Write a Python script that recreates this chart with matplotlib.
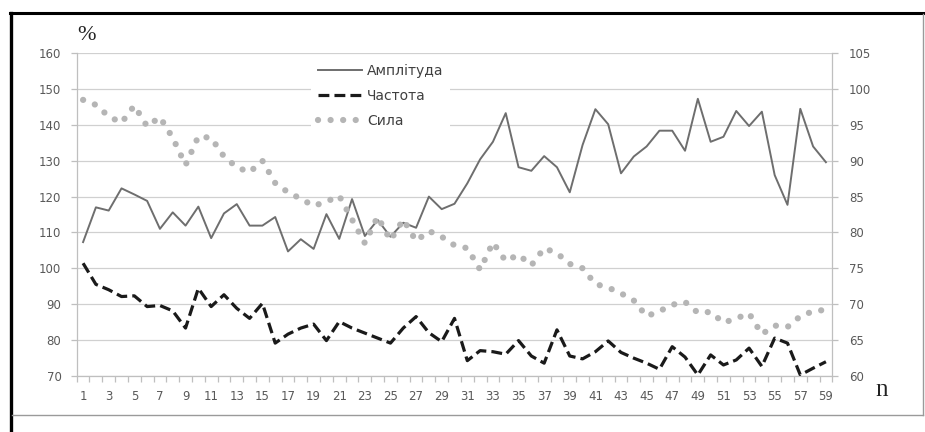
import matplotlib.pyplot as plt
import numpy as np
from matplotlib.lines import Line2D

# data
n = np.arange(1, 60)
amplituda = [107.3, 117.0, 116.1, 122.3, 120.6, 118.8, 111.0, 115.6, 111.9, 117.2,
             108.4, 115.3, 117.9, 111.9, 111.9, 114.3, 104.7, 108.1, 105.4, 115.1,
             108.2, 119.3, 109.0, 113.5, 108.8, 112.7, 111.3, 120.0, 116.5, 118.0,
             123.7, 130.4, 135.3, 143.3, 128.2, 127.2, 131.3, 128.2, 121.2, 134.4,
             144.4, 140.2, 126.5, 131.2, 134.0, 138.4, 138.4, 132.8, 147.3, 135.3,
             136.7, 143.9, 139.7, 143.7, 126.0, 117.7, 144.5, 134.0, 129.6]
chastota = [101.4, 95.5, 94.0, 92.1, 92.3, 89.3, 89.6, 88.1, 83.3, 94.4,
            89.3, 92.6, 88.8, 86.0, 90.2, 79.1, 81.6, 83.3, 84.4, 79.8,
            85.1, 83.3, 81.9, 80.5, 79.1, 83.3, 86.5, 82.0, 79.5, 86.0,
            74.2, 77.0, 76.7, 76.0, 79.8, 75.5, 73.5, 82.8, 75.5, 74.7,
            76.7, 79.7, 76.5, 74.9, 73.5, 71.8, 78.1, 75.2, 70.2, 75.8,
            73.0, 74.4, 77.7, 72.6, 80.5, 79.1, 70.2, 72.1, 73.9]
# Сила on the right axis (60..105)
syla = [98.5, 97.8, 96.2, 95.3, 97.7, 94.8, 96.1, 93.2, 89.4, 93.4,
        93.2, 90.6, 89.1, 88.4, 90.0, 86.9, 85.6, 84.7, 83.7, 84.3,
        85.1, 81.8, 78.5, 82.2, 78.9, 81.8, 78.8, 80.2, 79.4, 78.2,
        77.8, 74.8, 78.6, 76.0, 76.9, 75.4, 77.8, 77.1, 75.6, 75.0,
        72.8, 72.3, 71.5, 70.5, 68.3, 69.0, 69.9, 70.3, 68.8, 68.9,
        67.4, 68.0, 68.7, 65.8, 67.0, 66.8, 68.3, 69.0, 69.2]

labels = ['Амплітуда', 'Частота', 'Сила']
left_ticks = np.arange(70, 161, 10)
right_ticks = np.arange(60, 106, 5)

plt.rcParams['font.family'] = ['DejaVu Sans']
txt = '#595959'
grid_c = '#d0d0d0'

fig = plt.figure(figsize=(9.25, 4.32), dpi=100)
ax = fig.add_axes([0.0829, 0.1303, 0.8169, 0.7463])
ax2 = ax.twinx()

l1, = ax.plot(n, amplituda, color='#6e6e6e', lw=1.4, label=labels[0])
l2, = ax.plot(n, chastota, color='#1a1a1a', lw=2.3, dashes=(3.4, 1.6),
              dash_capstyle='butt', label=labels[1])
l3, = ax2.plot(n, syla, color='#b5b5b5', lw=4.5, dashes=(0.01, 2.0),
               dash_capstyle='round', label=labels[2])

ax.set_xlim(0.5, 59.5)
ax.set_ylim(70, 160)
ax2.set_ylim(60, 105)
ax.set_yticks(left_ticks)
ax2.set_yticks(right_ticks)
ax.set_xticks(n[::2])
ax.set_xticks(np.arange(0.5, 60, 1), minor=True)

ax.grid(axis='y', color=grid_c, lw=0.9)
ax.set_axisbelow(True)

for a in (ax, ax2):
    for s in a.spines.values():
        s.set_color('#bfbfbf')
        s.set_linewidth(0.9)
    a.spines['top'].set_visible(False)
ax.spines['right'].set_visible(False)
ax2.spines['left'].set_visible(False)
ax2.spines['bottom'].set_visible(False)

ax.tick_params(axis='y', colors='#bfbfbf', labelcolor=txt, labelsize=8.5,
               length=4.5, width=0.9, pad=6.5)
ax2.tick_params(axis='y', colors='#bfbfbf', labelcolor=txt, labelsize=8.5,
                length=4, width=0.9, pad=8)
ax.tick_params(axis='x', which='major', length=0, labelcolor=txt,
               labelsize=8.5, pad=10.5)
ax.tick_params(axis='x', which='minor', length=4, width=0.9, color='#bfbfbf')

leg = ax2.legend(handles=[l1, l2, l3], loc='upper left',
                 bbox_to_anchor=(0.329, 0.883), bbox_transform=fig.transFigure,
                 frameon=True, fontsize=10, handlelength=3.2, handletextpad=0.36,
                 labelspacing=0.8, borderpad=0.45, labelcolor='#404040')
leg.get_frame().set_facecolor('white')
leg.get_frame().set_edgecolor('none')
leg.get_frame().set_alpha(1)

fig.text(0.083, 0.907, '%', family='Liberation Serif', fontsize=16, color='#222222')
fig.text(0.946, 0.083, 'n', family='Liberation Serif', fontsize=18, color='#222222')

# page frame around the figure
fig.add_artist(Line2D([0.011, 1.0], [0.969, 0.969], color='black', lw=2.2))
fig.add_artist(Line2D([0.012, 0.012], [0.0, 0.970], color='black', lw=2.4))
fig.add_artist(Line2D([0.9975, 0.9975], [0.039, 0.968], color='#9a9a9a', lw=1.0))
fig.add_artist(Line2D([0.013, 0.998], [0.039, 0.039], color='#9a9a9a', lw=1.0))

fig.savefig('out.png', dpi=100)
